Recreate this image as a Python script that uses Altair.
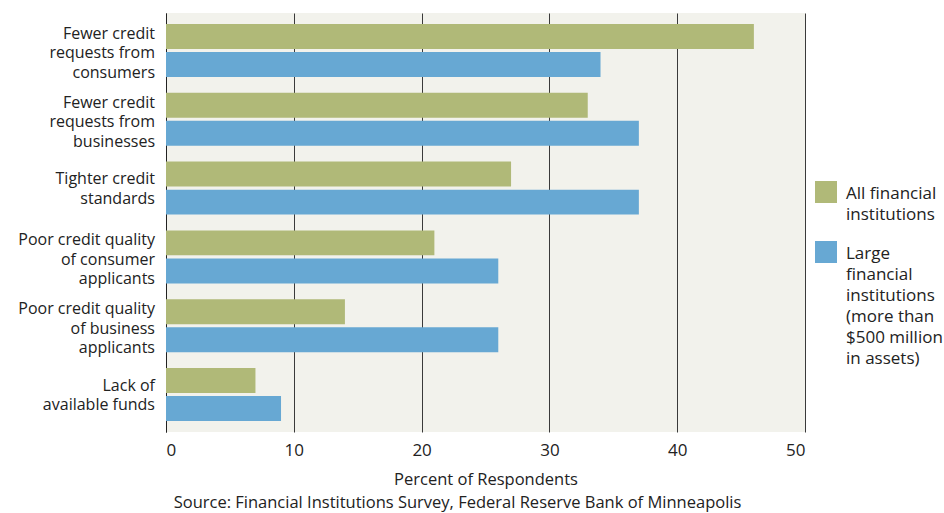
import altair as alt
import pandas as pd

categories = [
    "Fewer credit|requests from|consumers",
    "Fewer credit|requests from|businesses",
    "Tighter credit|standards",
    "Poor credit quality|of consumer|applicants",
    "Poor credit quality|of business|applicants",
    "Lack of|available funds",
]
series = [
    "All financial|institutions",
    "Large|financial|institutions|(more than|$500 million|in assets)",
]
all_vals = [46, 33, 27, 21, 14, 7]
large_vals = [34, 37, 37, 26, 26, 9]
colors = ["#b0b978", "#67a8d3"]
x_ticks = [0, 10, 20, 30, 40, 50]

rows = []
for c, a, l in zip(categories, all_vals, large_vals):
    rows.append({"category": c, "series": series[0], "value": a})
    rows.append({"category": c, "series": series[1], "value": l})
df = pd.DataFrame(rows)
cat_df = pd.DataFrame({"category": categories})

FONT = "Open Sans"
TXT = "#222"
LH = 19.5

bars = alt.Chart(df).mark_bar().encode(
    x=alt.X(
        "value:Q",
        scale=alt.Scale(domain=[0, 50], nice=False),
        axis=alt.Axis(
            values=x_ticks, grid=True, gridColor="#3a3a3a", gridWidth=1,
            domain=False, ticks=False, labelPadding=10, labelFontSize=17,
            labelColor=TXT, title="Percent of Respondents", titleFontSize=16.5,
            titleFontWeight="normal", titleColor=TXT, titlePadding=13,
            labelFont=FONT, titleFont=FONT,
        ),
    ),
    y=alt.Y(
        "category:N",
        sort=categories,
        scale=alt.Scale(paddingInner=0.23, paddingOuter=0.16),
        axis=alt.Axis(
            labels=False, title=None, ticks=False,
            domain=True, domainColor=TXT,
        ),
    ),
    yOffset=alt.YOffset("series:N", sort=series, scale=alt.Scale(paddingInner=0.11)),
    color=alt.Color(
        "series:N", sort=series,
        scale=alt.Scale(domain=series, range=colors), legend=None,
    ),
)

# category labels: one text layer per line, centred on each group
label_layers = []
for nlines, first_dy in [(3, -16.5), (2, -9)]:
    for i in range(nlines):
        lbl = alt.Chart(cat_df).transform_calculate(
            lines="split(datum.category, '|')"
        ).transform_filter(
            f"length(datum.lines) == {nlines}"
        ).transform_calculate(
            line=f"datum.lines[{i}]"
        ).mark_text(
            align="right", baseline="middle", fontSize=16,
            font=FONT, color=TXT, dy=first_dy + i * LH,
        ).encode(
            x=alt.value(-11),
            y=alt.Y("category:N", sort=categories),
            text="line:N",
        )
        label_layers.append(lbl)

# manual legend
legend_layers = []
sym_y = [179, 239]
txt_y = [173, 233]
for s, col, sy, ty in zip(series, colors, sym_y, txt_y):
    leg_df = pd.DataFrame({"series": [s]})
    sym = alt.Chart(leg_df).mark_square(size=484, color=col, opacity=1).encode(
        x=alt.value(660), y=alt.value(sy)
    )
    txt = alt.Chart(leg_df).transform_calculate(
        lines="split(datum.series, '|')"
    ).mark_text(
        align="left", baseline="top", fontSize=17, lineHeight=21,
        font=FONT, color=TXT,
    ).encode(x=alt.value(680), y=alt.value(ty), text="lines:N")
    legend_layers += [sym, txt]

chart = alt.layer(bars, *label_layers, *legend_layers).properties(
    width=639,
    height=419,
    autosize=alt.AutoSizeParams(type="none"),
    padding={"left": 166, "top": 13, "right": 139, "bottom": 81},
    title=alt.TitleParams(
        text="Source: Financial Institutions Survey, Federal Reserve Bank of Minneapolis",
        orient="bottom", anchor="middle", fontSize=16.5, fontWeight="normal",
        font=FONT, color=TXT, offset=7, dx=-28,
    ),
).configure_view(fill="#f2f2ec", strokeWidth=0)

chart.save("out.html", embed_options={"renderer": "svg", "actions": False})
